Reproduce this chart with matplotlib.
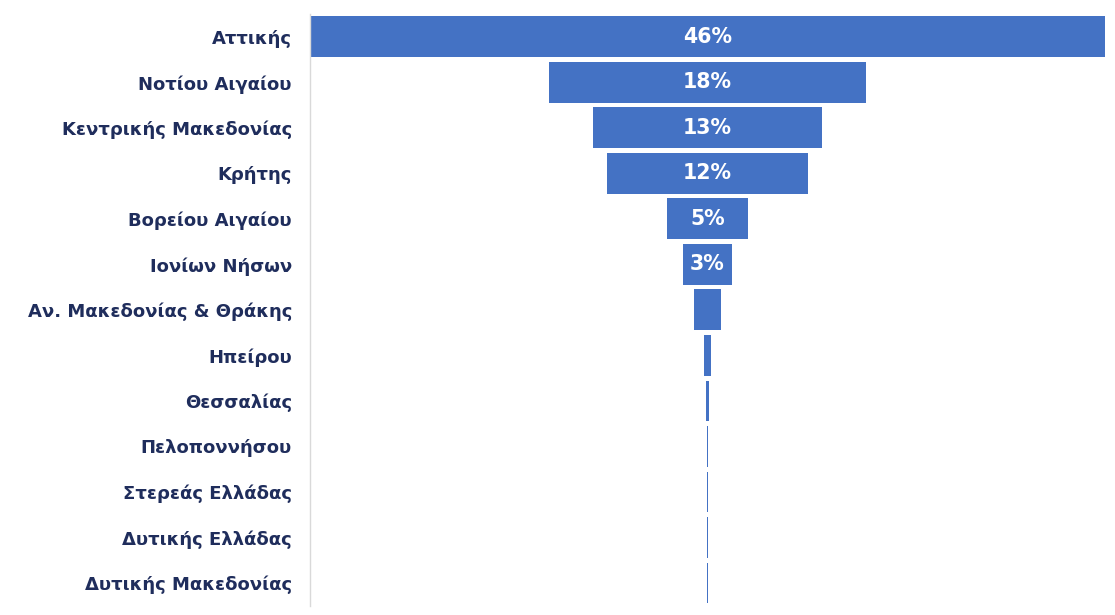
import matplotlib
matplotlib.use("Agg")
import matplotlib.pyplot as plt

categories = ["Αττικής", "Νοτίου Αιγαίου", "Κεντρικής Μακεδονίας", "Κρήτης",
              "Βορείου Αιγαίου", "Ιονίων Νήσων", "Αν. Μακεδονίας & Θράκης",
              "Ηπείρου", "Θεσσαλίας", "Πελοποννήσου", "Στερεάς Ελλάδας",
              "Δυτικής Ελλάδας", "Δυτικής Μακεδονίας"]
values = [46.0, 18.3, 13.3, 11.6, 4.65, 2.8, 1.55, 0.45, 0.16, 0.07, 0.07, 0.07, 0.07]
label_threshold = 2.5

bar_color = "#4472C4"
text_color = "#1F2D5C"

fig = plt.figure(figsize=(11.15, 6.15), dpi=100)
ax = fig.add_axes([0.278, 0.015, 0.713, 0.962])

ypos = list(range(len(categories)))
lefts = [-v / 2 for v in values]
bars = ax.barh(ypos, values, left=lefts, height=0.9, color=bar_color,
               linewidth=0, edgecolor="none")

for y, v in zip(ypos, values):
    if v >= label_threshold:
        ax.text(0, y, f"{round(v):.0f}%", ha="center", va="center",
                color="white", fontsize=14.8, fontweight="bold", family="DejaVu Sans")

vmax = max(values)
ax.set_xlim(-vmax / 2, vmax / 2)
ax.set_ylim(len(categories) - 0.5, -0.5)
ax.set_yticks(ypos)
ax.set_yticklabels(categories, fontsize=13, fontweight="bold", color=text_color)
ax.tick_params(axis="y", length=0, pad=13)
ax.set_xticks([])
for s in ["top", "right", "bottom"]:
    ax.spines[s].set_visible(False)
ax.spines["left"].set_color("#D9D9D9")
ax.spines["left"].set_linewidth(1.0)

fig.savefig("out.png", dpi=100, facecolor="white")
